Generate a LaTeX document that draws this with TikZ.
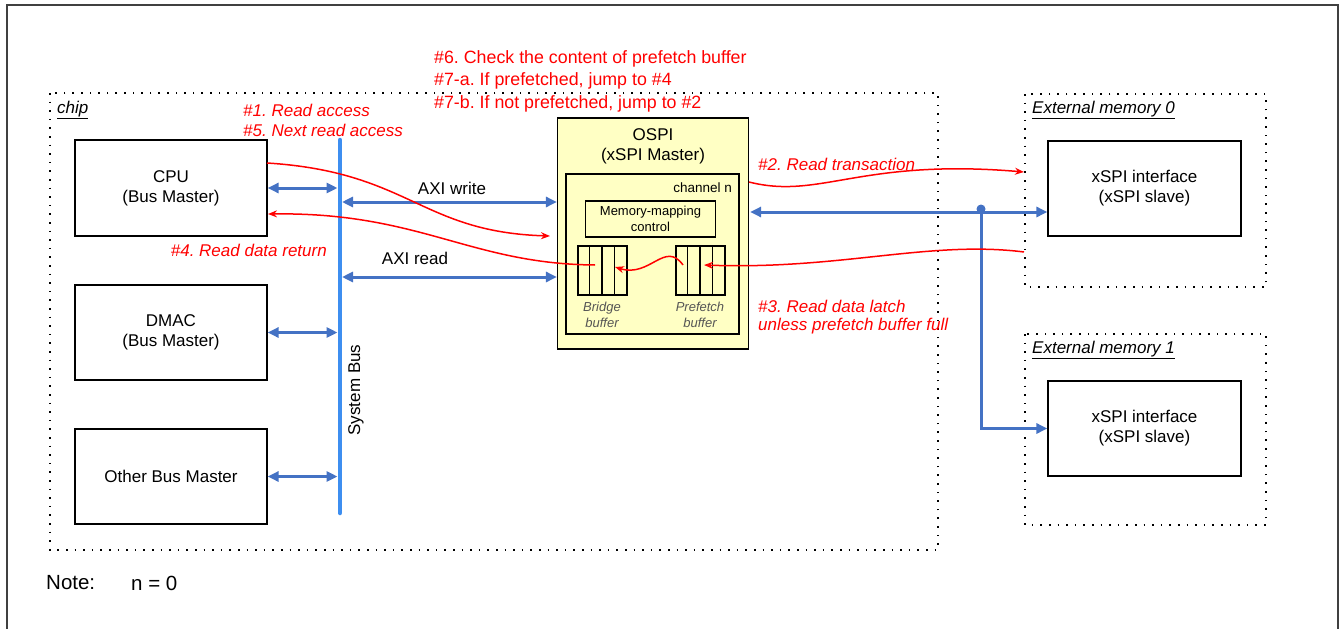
\documentclass[tikz,border=0pt]{standalone}
\usepackage{fontspec}
\setmainfont{Liberation Sans}
\usetikzlibrary{arrows.meta}
\definecolor{bl}{HTML}{4472C4}
\definecolor{busblue}{HTML}{3D8EF0}
\definecolor{rd}{HTML}{FF0000}
\definecolor{ylw}{HTML}{FFFFC4}
\definecolor{framec}{HTML}{404040}
\definecolor{grt}{HTML}{555555}
\begin{document}
\frenchspacing
\begin{tikzpicture}[x=1pt,y=-1pt,
  font=\fontsize{17}{20}\selectfont,
  box/.style={draw=black, line width=1.2pt, rectangle, inner sep=0pt, align=center},
  dotbox/.style={draw=black, line width=1.6pt, dash pattern=on 1.6pt off 7pt},
  barrow/.style={draw=bl, line width=3pt, {Triangle[length=11pt,width=10pt]}-{Triangle[length=11pt,width=10pt]}},
  bone/.style={draw=bl, line width=3pt, -{Triangle[length=11pt,width=10pt]}},
  rarrow/.style={draw=rd, line width=1.5pt, -{Stealth[length=9pt,width=7pt]}},
  rtext/.style={text=rd, font=\fontsize{17}{20}\selectfont\itshape, inner sep=0pt, anchor=west},
  rup/.style={text=rd, font=\fontsize{17.8}{21}\selectfont, inner sep=0pt, anchor=west},
  txt/.style={inner sep=0pt},
  small/.style={font=\fontsize{13}{15.5}\selectfont},
  buflab/.style={inner sep=0pt, align=center, text=grt, font=\fontsize{13}{15.5}\selectfont\itshape},
]
\useasboundingbox (0,0) rectangle (1341,629);
% outer frame
\draw[framec, line width=2pt] (7,629) -- (7,5) -- (1338,5) -- (1338,629);

% dotted containers
\draw[dotbox] (50,93) rectangle (938,550);
\draw[dotbox] (1025,94) rectangle (1266,287);
\draw[dotbox] (1025,334) rectangle (1266,525);
\node[txt, anchor=west, font=\fontsize{17}{20}\selectfont\itshape] (chipt) at (57,110) {\underline{chip}};
\node[txt, anchor=west, font=\fontsize{17}{20}\selectfont\itshape] (em0t) at (1032,110) {\underline{External memory 0}};
\node[txt, anchor=west, font=\fontsize{17}{20}\selectfont\itshape] (em1t) at (1032,350) {\underline{External memory 1}};

% masters
\node[box, minimum width=192pt, minimum height=96pt] (cpu) at (171,188) {CPU\\(Bus Master)};
\node[box, minimum width=192pt, minimum height=95pt] (dmac) at (171,332.5) {DMAC\\(Bus Master)};
\node[box, minimum width=192pt, minimum height=95pt] (obm) at (171,476.5) {Other Bus Master};

% system bus
\coordinate (busT) at (340,140);
\coordinate (busB) at (340,513);
\draw[busblue, line width=4.5pt, line cap=round] (busT) -- (busB);
\node[txt, rotate=90] (sysbus) at (356,390) {System Bus};

\draw[barrow] (cpu.east) -- ([xshift=-2.5pt]cpu.east -| busT);
\draw[barrow] (dmac.east) -- ([xshift=-2.5pt]dmac.east -| busT);
\draw[barrow] (obm.east) -- ([xshift=-2.5pt]obm.east -| busT);

% OSPI
\node[box, fill=ylw, minimum width=191pt, minimum height=231pt] (ospi) at (653,233.5) {};
\node[txt, align=center] (ospit) at (653,146) {OSPI\\(xSPI Master)};
\node[box, minimum width=173pt, minimum height=160pt] (chan) at (652.5,254) {};
\node[txt, anchor=east, font=\fontsize{13.5}{16}\selectfont] (chant) at (732,188) {channel n};
\node[box, small, minimum width=130pt, minimum height=36pt] (mm) at (650.5,219) {Memory-mapping\\control};
\node[box, minimum width=49pt, minimum height=49pt] (bb) at (602.5,270.5) {};
\node[box, minimum width=49pt, minimum height=49pt] (pb) at (700.5,270.5) {};
\foreach \i in {1,2,3} {
  \draw[line width=1.2pt] ([xshift=\i*12.25pt]bb.north west) -- ([xshift=\i*12.25pt]bb.south west);
  \draw[line width=1.2pt] ([xshift=\i*12.25pt]pb.north west) -- ([xshift=\i*12.25pt]pb.south west);
}
\node[buflab] (bbt) at (602,315) {Bridge\\buffer};
\node[buflab] (pbt) at (700,315) {Prefetch\\buffer};

% AXI
\coordinate (axw) at (342,202);
\coordinate (axr) at (342,277);
\draw[barrow] (axw) -- (ospi.west |- axw);
\draw[barrow] (axr) -- (ospi.west |- axr);
\node[txt] (axwt) at (452,188) {AXI write};
\node[txt] (axrt) at (415,258) {AXI read};

% external memories
\node[box, minimum width=193pt, minimum height=95pt] (x0) at (1144.5,188.5) {xSPI interface\\(xSPI slave)};
\node[box, minimum width=193pt, minimum height=95pt] (x1) at (1144.5,428.5) {xSPI interface\\(xSPI slave)};

\coordinate (j) at (981,212);
\draw[barrow] ([xshift=1pt]ospi.east |- j) -- (x0.west |- j);
\draw[bone] (j) -- (j |- x1.west) -- (x1.west);
\fill[bl] ([yshift=3pt]j) circle (4.5pt);

% red flows
\coordinate (r1s) at (267,163);
\coordinate (r1e) at (550,236);
\draw[rarrow] (r1s) .. controls (410,172) and (420,232) .. (r1e);
\coordinate (r4s) at (595,265);
\coordinate (r4e) at (268,214);
\draw[rarrow] (r4s) .. controls (470,264) and (420,212) .. (r4e);
\coordinate (r2s) at (749,182);
\coordinate (r2e) at (1024,172);
\draw[rarrow] (r2s) .. controls (820,200) and (860,158) .. (r2e);
\coordinate (r3s) at (1024,252);
\coordinate (r3e) at (704,265);
\draw[rarrow] (r3s) .. controls (930,240) and (840,270) .. (r3e);
\coordinate (r5s) at (683,265);
\coordinate (r5e) at (615,267);
\draw[rarrow] (r5s) .. controls (665,240) and (650,278) .. (r5e);

% red texts
\node[rup] (t6) at (434,59) {\#6. Check the content of prefetch buffer};
\node[rup] (t7a) at (434,81) {\#7-a. If prefetched, jump to \#4};
\node[rup] (t7b) at (434,103.5) {\#7-b. If not prefetched, jump to \#2};
\node[rtext] (t1) at (243,110) {\#1. Read access};
\node[rtext] (t5) at (243,130) {\#5. Next read access};
\node[rtext, anchor=east] (t4) at (327,250) {\#4. Read data return};
\node[rtext] (t2) at (758,164) {\#2. Read transaction};
\node[rtext] (t3) at (758,306) {\#3. Read data latch};
\node[rtext] (t3b) at (758,326) {unless prefetch buffer full};

% note
\node[txt, anchor=west, font=\fontsize{20.5}{24}\selectfont] (note) at (46,583) {Note:};
\node[txt, anchor=west, font=\fontsize{20.5}{24}\selectfont] (noten) at (131,583) {n = 0};
\end{tikzpicture}
\end{document}
